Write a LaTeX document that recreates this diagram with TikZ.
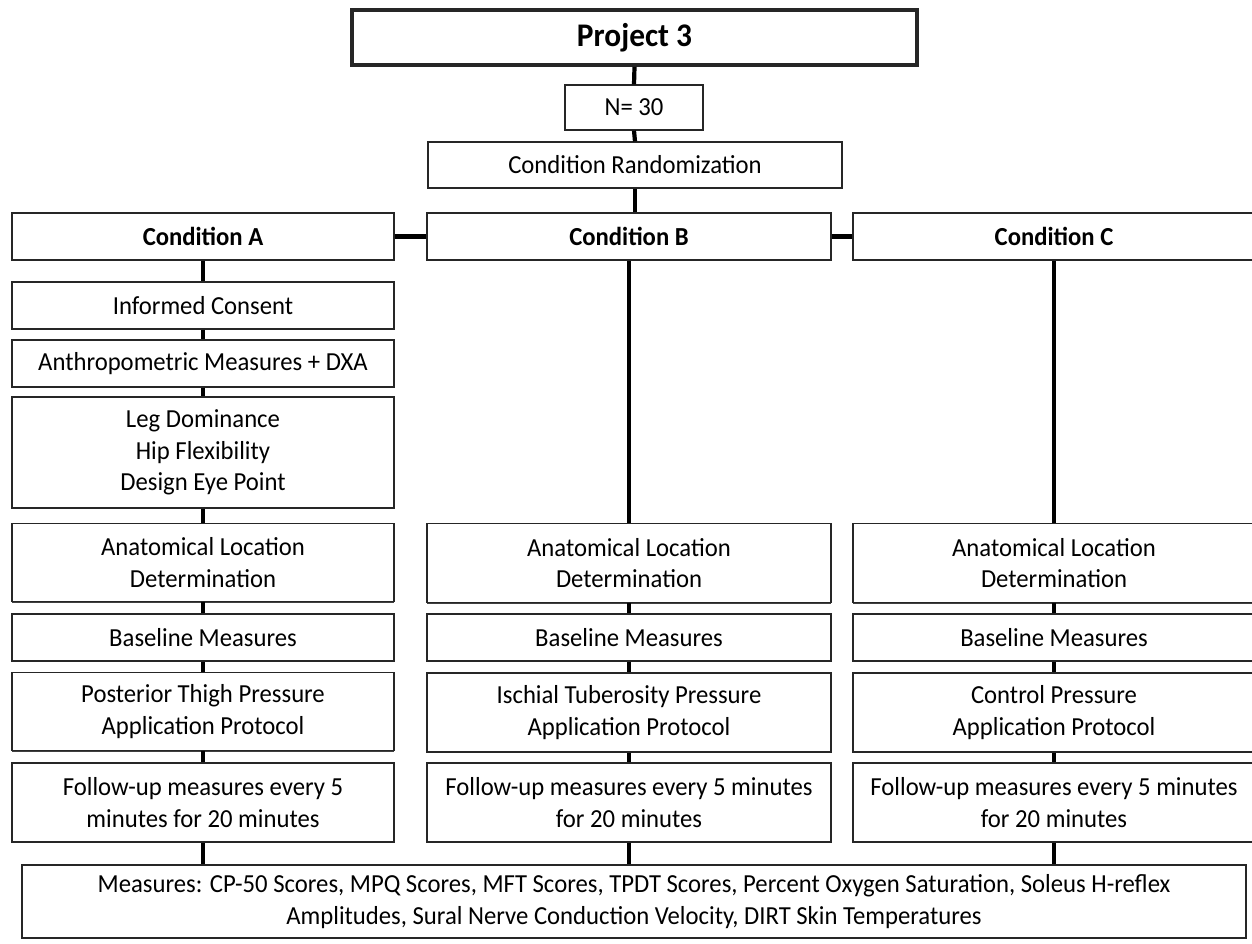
\documentclass[tikz,border=0pt]{standalone}
\usepackage{fontspec}
\setmainfont{Carlito}[FakeStretch=0.95]
\usetikzlibrary{shadows}
\begin{document}
\begin{tikzpicture}[x=1pt,y=-1pt,
  box/.style={draw=black!85, line width=1.2pt, fill=white, align=center, inner sep=0pt,
    font=\fontsize{26}{31.5}\selectfont,
    drop shadow={shadow xshift=0.3pt, shadow yshift=-1.4pt, fill=black!75, opacity=1}},
  colbox/.style={box, minimum width=382pt},
  bcol/.style={box, minimum width=404pt},
  ccol/.style={box, minimum width=402pt},
  bold/.style={font=\fontsize{26}{31.5}\selectfont\bfseries},
  link/.style={line width=4.2pt, black},
  hlink/.style={line width=4.8pt, black}]
\useasboundingbox (0,0) rectangle (1252,943);
\fill[white] (0,0) rectangle (1252,943);

% top
\node[box, line width=3.8pt, minimum width=565pt, minimum height=55pt,
  font=\fontsize{33}{40}\selectfont\bfseries,
  drop shadow={shadow xshift=0pt, shadow yshift=0pt, opacity=0}] (proj) at (634.5,37.5) {Project 3};
\node[box, minimum width=138pt, minimum height=45pt] (n30) at (634,107.5) {N= 30};
\node[box, minimum width=414pt, minimum height=46pt] (rand) at (635,165) {Condition Randomization};

% conditions
\node[colbox, bold, minimum height=47pt] (ca) at (203,236.5) {Condition A};
\node[bcol, bold, minimum height=47pt] (cb) at (629,236.5) {Condition B};
\node[ccol, bold, minimum height=47pt] (cc) at (1054,236.5) {Condition C};

% column A
\node[colbox, minimum height=47pt] (consent) at (203,305.5) {Informed Consent};
\node[colbox, minimum height=47pt] (anthro) at (203,363.5) {Anthropometric Measures + DXA};
\node[colbox, minimum height=111pt] (leg) at (203,452.5) {Leg Dominance\\Hip Flexibility\\Design Eye Point};
\node[colbox, minimum height=78pt] (anatA) at (203,562.5) {Anatomical Location\\Determination};
\node[colbox, minimum height=47pt] (baseA) at (203,637.5) {Baseline Measures};
\node[colbox, minimum height=78pt] (protA) at (203,711.5) {Posterior Thigh Pressure\\Application Protocol};
\node[colbox, minimum height=79pt] (folA) at (203,802.5) {Follow-up measures every 5\\minutes for 20 minutes};

% column B
\node[bcol, minimum height=79pt] (anatB) at (629,563) {Anatomical Location\\Determination};
\node[bcol, minimum height=47pt] (baseB) at (629,637.5) {Baseline Measures};
\node[bcol, minimum height=79pt] (protB) at (629,712.5) {Ischial Tuberosity Pressure\\Application Protocol};
\node[bcol, minimum height=79pt] (folB) at (629,802.5) {Follow-up measures every 5 minutes\\for 20 minutes};

% column C
\node[ccol, minimum height=79pt] (anatC) at (1054,563) {Anatomical Location\\Determination};
\node[ccol, minimum height=47pt] (baseC) at (1054,637.5) {Baseline Measures};
\node[ccol, minimum height=79pt] (protC) at (1054,712.5) {Control Pressure\\Application Protocol};
\node[ccol, minimum height=79pt] (folC) at (1054,802.5) {Follow-up measures every 5 minutes\\for 20 minutes};

% measures
\node[box, minimum width=1224pt, minimum height=73pt] (meas) at (634,901.5) {Measures: CP-50 Scores, MPQ Scores, MFT Scores, TPDT Scores, Percent Oxygen Saturation, Soleus H-reflex\\Amplitudes, Sural Nerve Conduction Velocity, DIRT Skin Temperatures};

% connectors
\draw[link] (proj.south) -- (n30.north);
\draw[link] (n30.south) -- (rand.north);
\draw[link] (rand.south) -- (rand.south |- cb.north);
\draw[hlink] (ca.east) -- (cb.west);
\draw[hlink] (cb.east) -- (cc.west);

\draw[link] (ca.south) -- (consent.north);
\draw[link] (consent.south) -- (anthro.north);
\draw[link] (anthro.south) -- (leg.north);
\draw[link] (leg.south) -- (anatA.north);
\draw[link] (anatA.south) -- (baseA.north);
\draw[link] (baseA.south) -- (protA.north);
\draw[link] (protA.south) -- (folA.north);
\draw[link] (folA.south) -- (folA.south |- meas.north);

\draw[link] (cb.south) -- (anatB.north);
\draw[link] (anatB.south) -- (baseB.north);
\draw[link] (baseB.south) -- (protB.north);
\draw[link] (protB.south) -- (folB.north);
\draw[link] (folB.south) -- (folB.south |- meas.north);

\draw[link] (cc.south) -- (anatC.north);
\draw[link] (anatC.south) -- (baseC.north);
\draw[link] (baseC.south) -- (protC.north);
\draw[link] (protC.south) -- (folC.north);
\draw[link] (folC.south) -- (folC.south |- meas.north);
\end{tikzpicture}
\end{document}
